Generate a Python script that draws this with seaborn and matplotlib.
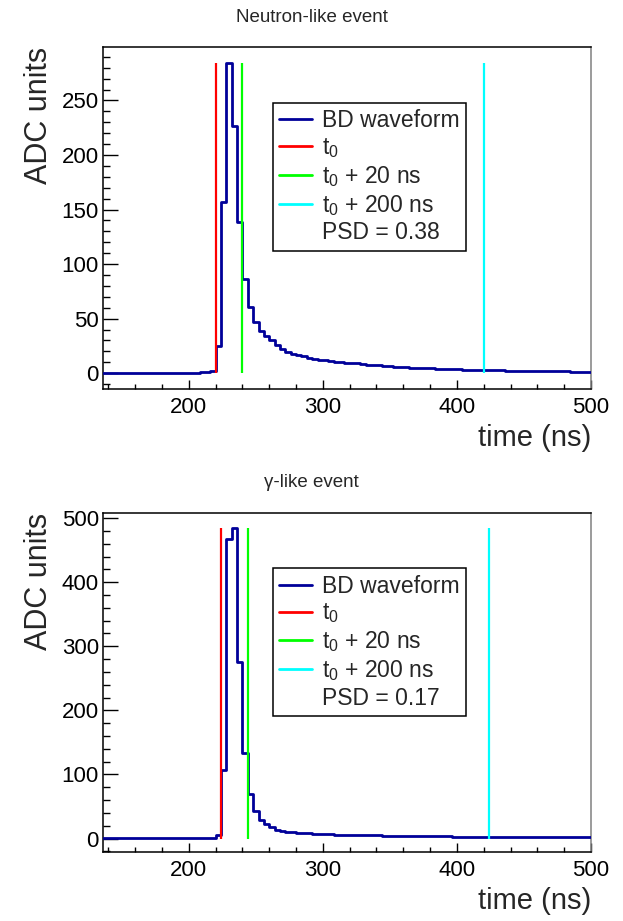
import numpy as np
import pandas as pd
import matplotlib
matplotlib.use("Agg")
import matplotlib.pyplot as plt
from matplotlib.ticker import MultipleLocator
from matplotlib.lines import Line2D
import seaborn as sns

# ---------------- data ----------------
bin_start = 136          # ns, left edge of first bin
bin_width = 4            # ns per digitizer sample

titles = ["Neutron-like event", "\u03b3-like event"]
psd_labels = ["PSD = 0.38", "PSD = 0.17"]
t0_values = [220, 224]
gate_offsets = [0, 20, 200]
gate_labels = ["t$_0$", "t$_0$ + 20 ns", "t$_0$ + 200 ns"]
wave_label = "BD waveform"

neutron_adc = [
    0.6, 0.5, 0.4, 0.5, 0.6, 0.5, 0.4, 0.5, 0.5, 0.6,
    0.4, 0.5, 0.6, 0.5, 0.5, 0.4, 0.6, 0.5, 0.7, 0.9,
    2.4, 25, 157, 284.5, 227, 139, 86, 61, 47, 39,
    34.5, 30, 25.6, 22, 19.5, 18, 16.8, 15.6, 14, 13,
    12.5, 11.8, 11.3, 10.6, 10.2, 9.6, 9.2, 8.9, 8.3, 7.9,
    7.6, 7.2, 6.8, 6.4, 6.0, 5.7, 5.4, 5.2, 5.0, 4.8,
    4.6, 4.3, 4.1, 4.0, 3.8, 3.6, 3.5, 3.3, 3.2, 3.0,
    2.9, 2.8, 2.7, 2.6, 2.5, 2.4, 2.3, 2.2, 2.1, 2.0,
    1.9, 1.9, 1.8, 1.7, 1.7, 1.6, 1.6, 1.5, 1.5, 1.4,
    1.4,
]

gamma_adc = [
    0.3, 0.2, 0.4, 0.3, 0.2, 0.3, 0.4, 0.3, 0.2, 0.3,
    0.3, 0.4, 0.2, 0.3, 0.3, 0.2, 0.4, 0.3, 0.3, 0.4,
    0.5, 5, 107.6, 468, 484, 275.5, 133.5, 70, 42.6, 29.6,
    23, 18, 14, 12, 10.5, 10, 9, 8.8, 8.6, 7,
    6.8, 6.6, 6.4, 5.6, 5.4, 5.3, 5.2, 5.1, 5.0, 5.0,
    4.9, 4.8, 4.7, 4.6, 4.5, 4.4, 4.3, 4.2, 4.1, 3.9,
    3.6, 3.5, 3.4, 3.3, 3.2, 3.1, 3.0, 3.0, 2.9, 2.9,
    2.8, 2.8, 2.7, 2.7, 2.6, 2.6, 2.5, 2.5, 2.5, 2.4,
    2.4, 2.4, 2.3, 2.3, 2.3, 2.2, 2.2, 2.2, 2.1, 2.1,
    2.1,
]

waveforms = [neutron_adc, gamma_adc]
y_limits = [(-14.5, 299), (-21, 508)]
y_major = [50, 100]
y_minor = [10, 20]
x_limits = (136, 500)

# ---------------- style ----------------
sns.set_style("ticks")
plt.rcParams["font.family"] = ["Liberation Sans", "DejaVu Sans"]
plt.rcParams["mathtext.default"] = "regular"

wave_color = "#000099"
gate_colors = ["#ff0000", "#00ff00", "#00ffff"]

fig = plt.figure(figsize=(6.23, 9.21), dpi=100)
W, H = 623.0, 921.0
panels = [(103, 591, 47, 389), (103, 591, 513, 852)]
title_y = [18, 482]

for i, (l, r, t, b) in enumerate(panels):
    ax = fig.add_axes([l / W, 1 - b / H, (r - l) / W, (b - t) / H])
    vals = np.asarray(waveforms[i], dtype=float)
    nbins = len(vals)
    lo = bin_start
    hi = bin_start + bin_width * nbins
    centers = lo + bin_width * (np.arange(nbins) + 0.5)
    df = pd.DataFrame({"time": centers, "adc": vals})

    sns.histplot(data=df, x="time", weights="adc", bins=nbins,
                 binrange=(lo, hi),
                 element="step", fill=False, color=wave_color,
                 linewidth=2.0, ax=ax, zorder=3)

    handles = [Line2D([0], [0], color=wave_color, lw=2.0)]
    labels = [wave_label]
    vmax = vals.max()
    for off, col, lab in zip(gate_offsets, gate_colors, gate_labels):
        ax.vlines(t0_values[i] + off, 0, vmax, colors=col, linewidth=1.6,
                  zorder=4)
        handles.append(Line2D([0], [0], color=col, lw=2.0))
        labels.append(lab)
    handles.append(Line2D([0], [0], color="none", lw=0))
    labels.append(psd_labels[i])

    ax.set_xlim(*x_limits)
    ax.set_ylim(*y_limits[i])
    ax.xaxis.set_major_locator(MultipleLocator(100))
    ax.xaxis.set_minor_locator(MultipleLocator(20))
    ax.yaxis.set_major_locator(MultipleLocator(y_major[i]))
    ax.yaxis.set_minor_locator(MultipleLocator(y_minor[i]))

    ax.tick_params(axis="both", which="both", direction="in", colors="black",
                   width=1.0, labelsize=16)
    ax.tick_params(axis="y", which="major", length=10.5, pad=3)
    ax.tick_params(axis="y", which="minor", length=5.3)
    ax.tick_params(axis="x", which="major", length=6.5, pad=6)
    ax.tick_params(axis="x", which="minor", length=3.3)
    ax.tick_params(top=False, right=False, which="both")

    for side in ["left", "bottom", "top"]:
        ax.spines[side].set_visible(True)
        ax.spines[side].set_color("black")
        ax.spines[side].set_linewidth(1.1)
    ax.spines["right"].set_visible(True)
    ax.spines["right"].set_color("#808080")
    ax.spines["right"].set_linewidth(1.1)

    ax.set_xlabel("time (ns)", fontsize=21, loc="right")
    ax.xaxis.set_label_coords(1.0, -(35.0 / (b - t)))
    ax.set_ylabel("ADC units", fontsize=22, loc="top")
    ax.yaxis.set_label_coords(-(103 - 54) / (r - l), 1.0)

    leg = ax.legend(handles, labels, loc="upper left",
                    bbox_to_anchor=(0.348, 0.837), fontsize=16.5,
                    frameon=True, fancybox=False, shadow=False,
                    framealpha=1.0, edgecolor="black",
                    handlelength=1.45, handletextpad=0.4,
                    borderpad=0.28, labelspacing=0.17, borderaxespad=0.0)
    leg.get_frame().set_linewidth(1.1)

    fig.text(0.5, 1 - title_y[i] / H, titles[i], ha="center", va="center",
             fontsize=13.5)

fig.savefig("out.png", dpi=100)
